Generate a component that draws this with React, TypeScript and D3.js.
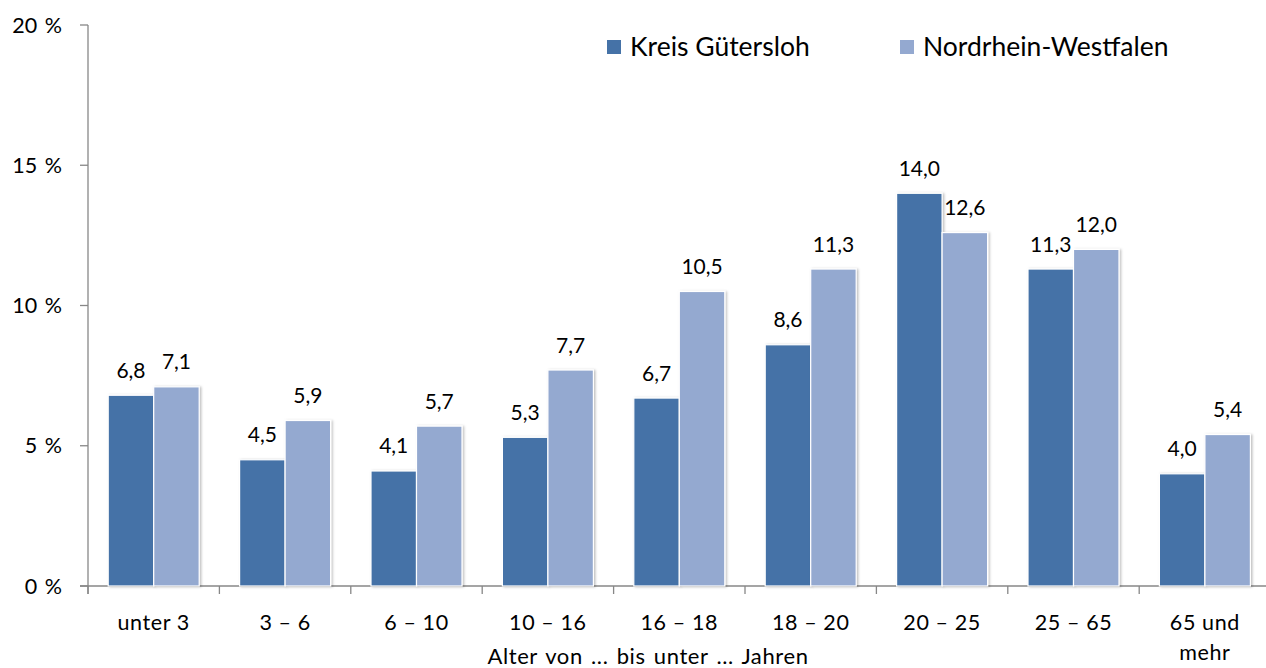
import React, { useEffect, useRef } from 'react';
import * as d3 from 'd3';

const categories = ['unter 3', '3 –  6', '6 – 10', '10 – 16', '16 – 18', '18 – 20', '20 – 25', '25 – 65', '65 und|mehr'];
const kreis = [6.8, 4.5, 4.1, 5.3, 6.7, 8.6, 14.0, 11.3, 4.0];
const nrw = [7.1, 5.9, 5.7, 7.7, 10.5, 11.3, 12.6, 12.0, 5.4];
const seriesNames = ['Kreis Gütersloh', 'Nordrhein-Westfalen'];
const yTicks = [0, 5, 10, 15, 20];

const colors = ['#4572a7', '#94a9d0'];
const FONT = 'Lato, "Open Sans", sans-serif';

const App = () => {
  const svgRef = useRef<SVGSVGElement>(null);

  useEffect(() => {
    if (!svgRef.current) return;
    const svg = d3.select(svgRef.current);
    svg.selectAll('*').remove();

    const width = 1266;
    const height = 668;
    const left = 88;
    const bandW = 131.4;

    const y = d3.scaleLinear().domain([0, 20]).range([586, 25]);
    const x = d3.scaleBand()
      .domain(categories)
      .range([left, left + bandW * categories.length])
      .padding(0);

    svg.attr('width', width).attr('height', height);

    // soft shadow for bars
    const defs = svg.append('defs');
    const f = defs.append('filter').attr('id', 'shadow')
      .attr('x', '-20%').attr('y', '-20%').attr('width', '140%').attr('height', '140%');
    f.append('feDropShadow')
      .attr('dx', 1.5).attr('dy', 0.5).attr('stdDeviation', 1.2)
      .attr('flood-color', '#000').attr('flood-opacity', 0.25);

    // axes
    const axisColor = '#878787';
    svg.append('line')
      .attr('x1', left).attr('x2', left).attr('y1', y(20)).attr('y2', y(0) + 8)
      .attr('stroke', axisColor).attr('stroke-width', 1.3);
    svg.append('line')
      .attr('x1', left - 8).attr('x2', width).attr('y1', y(0)).attr('y2', y(0))
      .attr('stroke', axisColor).attr('stroke-width', 1.3);

    svg.selectAll('.ytick')
      .data(yTicks)
      .enter()
      .append('line')
      .attr('x1', left - 8).attr('x2', left)
      .attr('y1', d => y(d)).attr('y2', d => y(d))
      .attr('stroke', axisColor).attr('stroke-width', 1.3);

    svg.selectAll('.ylabel')
      .data(yTicks)
      .enter()
      .append('text')
      .attr('x', 62)
      .attr('y', d => y(d))
      .attr('dy', '0.35em')
      .attr('text-anchor', 'end')
      .attr('font-family', FONT)
      .attr('font-size', 21.5)
      .attr('word-spacing', 2)
      .attr('fill', '#000')
      .text(d => `${d} %`);

    // category ticks
    svg.selectAll('.xtick')
      .data(categories)
      .enter()
      .append('line')
      .attr('x1', d => x(d)!).attr('x2', d => x(d)!)
      .attr('y1', y(0)).attr('y2', y(0) + 8)
      .attr('stroke', axisColor).attr('stroke-width', 1.3);

    // category labels
    const catLabels = svg.selectAll('.xlabel')
      .data(categories)
      .enter()
      .append('text')
      .attr('text-anchor', 'middle')
      .attr('font-family', FONT)
      .attr('font-size', 21.5)
      .attr('letter-spacing', 0.6)
      .attr('fill', '#000');
    catLabels.each(function (d) {
      const lines = d.split('|');
      const cx = x(d)! + x.bandwidth() / 2;
      lines.forEach((ln, i) => {
        d3.select(this).append('tspan')
          .attr('x', cx)
          .attr('y', 630 + i * 30)
          .text(ln);
      });
    });

    svg.append('text')
      .attr('x', 648)
      .attr('y', 664)
      .attr('text-anchor', 'middle')
      .attr('font-family', FONT)
      .attr('font-size', 22)
      .attr('letter-spacing', 0.6)
      .attr('word-spacing', 2)
      .attr('fill', '#000')
      .text('Alter von ... bis unter ... Jahren');

    // bars
    const barW = 45.5;
    const series = [kreis, nrw];
    series.forEach((vals, si) => {
      const g = svg.append('g');
      g.selectAll('rect')
        .data(vals)
        .enter()
        .append('rect')
        .attr('x', (d, i) => x(categories[i])! + x.bandwidth() / 2 - barW + si * barW)
        .attr('y', d => y(d))
        .attr('width', barW)
        .attr('height', d => y(0) - y(d))
        .attr('fill', colors[si])
        .attr('stroke', '#fff')
        .attr('stroke-width', 1.2)
        .attr('filter', 'url(#shadow)');

      g.selectAll('text')
        .data(vals)
        .enter()
        .append('text')
        .attr('x', (d, i) => x(categories[i])! + x.bandwidth() / 2 - barW / 2 + si * barW)
        .attr('y', d => y(d) - 17.5)
        .attr('text-anchor', 'middle')
        .attr('font-family', FONT)
        .attr('font-size', 21)
        .attr('fill', '#000')
        .text(d => d.toFixed(1).replace('.', ','));
    });

    // legend
    const legendX = [607, 900];
    seriesNames.forEach((name, i) => {
      svg.append('rect')
        .attr('x', legendX[i]).attr('y', 40)
        .attr('width', 14).attr('height', 14)
        .attr('fill', colors[i]);
      svg.append('text')
        .attr('x', legendX[i] + 23)
        .attr('y', 47)
        .attr('dy', '0.35em')
        .attr('font-family', FONT)
        .attr('font-size', 26.5)
        .attr('fill', '#000')
        .text(name);
    });
  }, []);

  return (
    <div style={{ position: 'absolute', left: 0, top: 0 }}>
      <svg ref={svgRef} style={{ display: 'block' }}></svg>
    </div>
  );
};

export default App;
